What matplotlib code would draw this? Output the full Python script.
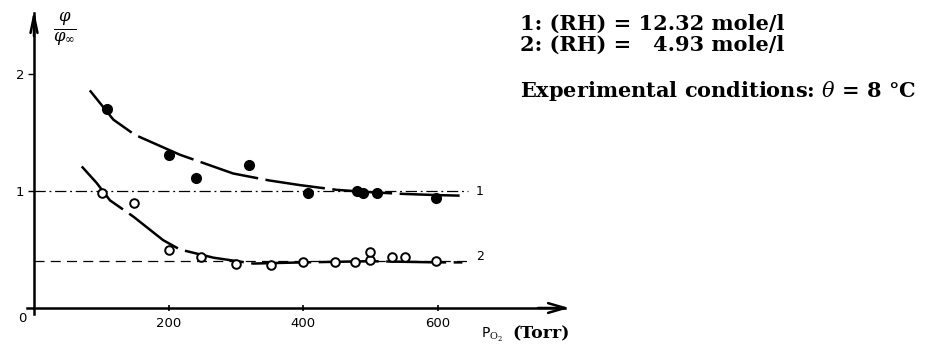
import numpy as np
import matplotlib
matplotlib.use("Agg")
import matplotlib.pyplot as plt

plt.rcParams['mathtext.fontset'] = 'dejavuserif'

# measured points, (RH) = 12.32 mole/l
p1 = [108, 200, 241, 320, 408, 480, 489, 510, 598]
r1 = [1.70, 1.31, 1.11, 1.22, 0.98, 1.00, 0.98, 0.98, 0.94]

# measured points, (RH) = 4.93 mole/l
p2 = [101, 148, 200, 248, 300, 352, 400, 448, 477, 500, 500, 532, 552, 598]
r2 = [0.98, 0.90, 0.50, 0.44, 0.38, 0.37, 0.39, 0.39, 0.39, 0.41, 0.48, 0.44, 0.44, 0.40]

# hand-drawn trend curves
c1_x = [83, 118, 150, 217, 296, 350, 396, 450, 500, 550, 600, 637]
c1_y = [1.86, 1.61, 1.48, 1.31, 1.15, 1.09, 1.05, 1.01, 0.99, 0.975, 0.965, 0.96]
c2_x = [71, 93, 113, 148, 192, 217, 267, 326, 400, 500, 600, 637]
c2_y = [1.21, 1.07, 0.92, 0.78, 0.58, 0.50, 0.43, 0.38, 0.39, 0.40, 0.39, 0.39]

# limiting values
lim1 = 1.0
lim2 = 0.4

xticks = [200, 400, 600]
yticks = [1, 2]

fig = plt.figure(figsize=(9.32, 3.44), dpi=100)
ax = fig.add_axes([0.02205, 0.0196, 0.5917, 0.9693])
ax.set_xlim(-20, 800)
ax.set_ylim(-0.25, 2.6)

# axes through the origin
for side in ['top', 'right']:
    ax.spines[side].set_visible(False)
ax.spines['bottom'].set_position(('data', 0))
ax.spines['left'].set_position(('data', 0))
ax.spines['bottom'].set_bounds(-10, 790)
ax.spines['left'].set_bounds(-0.05, 2.52)
ax.spines['bottom'].set_linewidth(1.8)
ax.spines['left'].set_linewidth(1.8)
ax.annotate('', xy=(800, 0), xytext=(745, 0),
            arrowprops=dict(arrowstyle='->,head_length=1.2,head_width=0.35', lw=1.8, color='k'))
ax.annotate('', xy=(0, 2.57), xytext=(0, 2.3),
            arrowprops=dict(arrowstyle='->,head_length=1.2,head_width=0.25', lw=1.8, color='k'))

ax.set_xticks(xticks)
ax.set_xticklabels([str(t) for t in xticks], fontsize=9.5, fontfamily='DejaVu Sans')
ax.tick_params(axis='x', direction='inout', length=5, width=1.2, pad=4)
ax.set_yticks(yticks)
ax.set_yticklabels([str(t) for t in yticks], fontsize=9.5, fontfamily='DejaVu Sans')
ax.tick_params(axis='y', direction='out', length=4, width=1.0, pad=3)
ax.text(-18, -0.09, '0', fontsize=9.5, ha='center', va='center')

# reference levels
ax.plot([0, 645], [lim1, lim1], color='k', lw=0.9, dashes=(9, 3, 1.5, 3))
ax.plot([0, 645], [lim2, lim2], color='k', lw=0.9, dashes=(8, 5))
ax.text(663, lim1, '1', fontsize=9, ha='center', va='center')
ax.text(663, lim2 + 0.04, '2', fontsize=9, ha='center', va='center')

# trend curves
ax.plot(c1_x, c1_y, color='k', lw=1.8, dashes=(24, 3))
ax.plot(c2_x, c2_y, color='k', lw=1.8, dashes=(24, 3))

ax.plot(p1, r1, 'o', color='k', ms=7, ls='none')
ax.plot(p2, r2, 'o', mfc='white', mec='k', mew=1.4, ms=6.2, ls='none')

# axis titles
ax.text(46, 2.38, r'$\frac{\varphi}{\varphi_\infty}$', fontsize=17, ha='center', va='center')
ax.text(665, -0.23, r'P$_{\mathrm{O_2}}$', fontsize=10, ha='left', va='center',
        fontfamily='DejaVu Sans')
ax.text(712, -0.22, '(Torr)', fontsize=12.5, ha='left', va='center',
        fontfamily='DejaVu Serif', fontweight='bold')

# conditions
txt = dict(fontsize=15, fontfamily='DejaVu Serif', fontweight='bold', va='center')
fig.text(520 / 932, 1 - 24 / 344, '1: (RH) = 12.32 mole/l', **txt)
fig.text(520 / 932, 1 - 45 / 344, '2: (RH) =   4.93 mole/l', **txt)
fig.text(520 / 932, 1 - 91 / 344, r'Experimental conditions: $\theta$ = 8 °C', **txt)

fig.savefig('out.png', dpi=100)
